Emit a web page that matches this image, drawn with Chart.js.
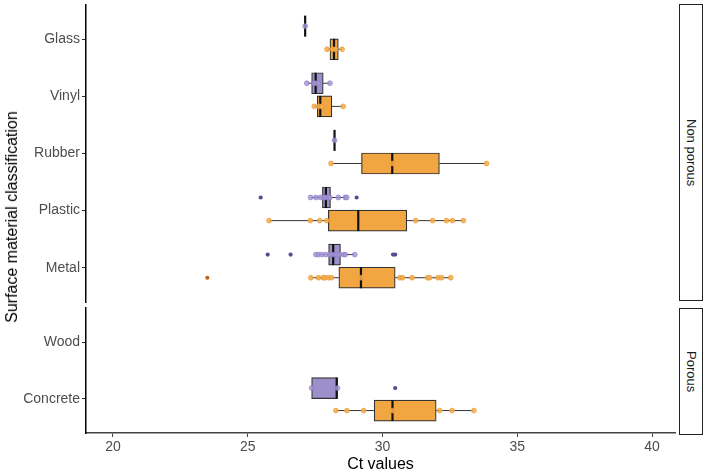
<!DOCTYPE html>
<html><head><meta charset="utf-8">
<script src="https://cdn.jsdelivr.net/npm/chart.js@4"></script>
<style>
html,body{margin:0;padding:0;background:#fff;}
#wrap{position:relative;width:706px;height:473px;overflow:hidden;font-family:"Liberation Sans",Arial,sans-serif;}
#c1{position:absolute;left:0;top:0;}
#c2{position:absolute;left:0;top:303px;}
.strip{position:absolute;left:679px;width:22px;border:1.3px solid #222;background:#fff;display:flex;align-items:center;justify-content:center;}
.strip span{writing-mode:vertical-rl;font-size:13px;color:#1a1a1a;}
#ytitle{position:absolute;left:12px;top:217px;transform:translate(-50%,-50%) rotate(-90deg);white-space:nowrap;font-size:16px;color:#000;}
</style></head>
<body><div id="wrap">
<canvas id="c1" width="706" height="303"></canvas>
<canvas id="c2" width="706" height="170"></canvas>
<div class="strip" style="top:4px;height:295px;"><span>Non porous</span></div>
<div class="strip" style="top:308px;height:125px;"><span>Porous</span></div>
<div id="ytitle">Surface material classification</div>
</div>
<script>
// ---------------- data ----------------
const topCategories = ['Glass','Vinyl','Rubber','Plastic','Metal'];
const bottomCategories = ['Wood','Concrete'];
const xTicks = [20,25,30,35,40];
// box stats per category: [lower whisker, Q1, median, Q3, upper whisker]
const purpleTopStats = [
  [27.13,27.13,27.13,27.13,27.13],
  [27.19,27.37,27.52,27.80,28.05],
  [28.22,28.22,28.22,28.22,28.22],
  [27.33,27.77,27.90,28.07,28.67],
  [27.53,28.00,28.17,28.44,28.97]
];
const purpleTopPoints = [
  [27.13],
  [27.19,27.45,27.52,27.62,28.05],
  [28.22],
  [27.33,27.53,27.70,27.82,27.90,27.98,28.05,28.36,28.62,28.67],
  [27.53,27.62,27.75,27.90,28.05,28.12,28.22,28.30,28.40,28.55,28.62,28.97]
];
const purpleTopOutliers = [[],[],[],[25.48,29.04],[25.74,26.59,30.39,30.47]];
const orangeTopStats = [
  [27.94,28.05,28.20,28.36,28.50],
  [27.47,27.58,27.69,28.12,28.54],
  [28.09,29.22,30.36,32.11,33.86],
  [25.79,27.99,29.10,30.90,33.00],
  [27.34,28.38,29.20,30.47,32.53]
];
const orangeTopPoints = [
  [27.94,28.15,28.25,28.50],
  [27.47,27.65,27.75,28.54],
  [28.09,30.36,33.86],
  [25.79,27.32,27.67,27.93,31.23,31.86,32.37,32.59,33.00],
  [27.34,27.62,27.80,27.86,27.99,28.11,29.20,30.64,30.74,31.10,31.67,31.75,32.06,32.19,32.53]
];
const orangeTopOutliers = [[],[],[],[],[23.5]];
const purpleBottomStats = [null,[27.37,27.37,28.30,28.33,28.33]];
const purpleBottomPoints = [[],[27.37,28.33]];
const purpleBottomOutliers = [[],[30.47]];
const orangeBottomStats = [null,[28.27,29.69,30.37,31.99,33.39]];
const orangeBottomPoints = [[],[28.27,28.68,29.30,30.37,32.12,32.58,33.39]];
const orangeBottomOutliers = [[],[]];

// ---------------- styles ----------------
const FONT = '"Liberation Sans", Arial, sans-serif';
const purple = {fill:'#9c8fca', pt:'rgba(168,153,215,0.8)', ptB:'rgba(140,125,198,0.9)', out:'#5a4b8f'};
const orange = {fill:'#f2a642', pt:'rgba(246,176,80,0.85)', ptB:'rgba(236,152,48,0.95)', out:'#c0651a'};

function series(stats, pts, outs, offset, col) {
  const boxes = [], meds = [], whisk = [], points = [], outl = [];
  stats.forEach((s, i) => {
    if (!s) return;
    const y = i + offset;
    boxes.push({y: y, x: [s[1], s[3]]});
    meds.push({x: s[2], y: y});
    whisk.push({x: s[0], y: y}, {x: s[1], y: y}, {x: NaN, y: NaN},
               {x: s[3], y: y}, {x: s[4], y: y}, {x: NaN, y: NaN});
    pts[i].forEach(p => points.push({x: p, y: y}));
    outs[i].forEach(p => outl.push({x: p, y: y}));
  });
  return [
    {type:'scatter', data: whisk, showLine: true, borderColor:'#333', borderWidth:1, pointRadius:0, order:5},
    {type:'bar', indexAxis:'y', data: boxes, backgroundColor: col.fill, borderColor:'#333', borderWidth:1.2,
     borderSkipped:false, grouped:false, barThickness:21, order:4},
    {type:'scatter', data: meds, pointStyle:'line', rotation:90, pointRadius:10.5, borderColor:'#111',
     borderWidth:2.2, order:3},
    {type:'scatter', data: points, pointRadius:2.4, backgroundColor: col.pt, borderColor: col.ptB, borderWidth:0.8, order:2},
    {type:'scatter', data: outl, pointRadius:2.1, backgroundColor: col.out, borderColor: col.out, borderWidth:0, order:1}
  ];
}

function makeChart(id, cats, dsets, showX, padTop, padBottom) {
  return new Chart(document.getElementById(id), {
    type: 'scatter',
    data: {datasets: dsets},
    options: {
      responsive: false, animation: false,
      layout: {autoPadding: false, padding: {left: 0, right: 31, top: padTop, bottom: padBottom}},
      plugins: {legend: {display: false}, tooltip: {enabled: false}},
      scales: {
        x: {
          type: 'linear', min: 19.0, max: 40.85, display: showX, offset: false, beginAtZero: false,
          afterBuildTicks: ax => { ax.ticks = xTicks.map(v => ({value: v})); },
          afterFit: ax => { if (showX) ax.height = 40; ax.paddingLeft = 0; ax.paddingRight = 0; },
          grid: {offset: false, drawOnChartArea: false, drawTicks: true, tickLength: 4, tickColor: '#444'},
          border: {display: true, color: '#444', width: 1.5},
          ticks: {padding: 2, color: '#4d4d4d', font: {family: FONT, size: 14}, maxRotation: 0},
          title: {display: true, text: 'Ct values', color: '#000', font: {family: FONT, size: 16, lineHeight: 1}, padding: {top: 0, bottom: 0}}
        },
        y: {
          type: 'linear', reverse: true, min: -0.6, max: cats.length - 0.4, offset: false, beginAtZero: false,
          afterBuildTicks: ax => { ax.ticks = cats.map((_, i) => ({value: i})); },
          afterFit: ax => { ax.width = 86; ax.paddingTop = 0; ax.paddingBottom = 0; },
          grid: {offset: false, drawOnChartArea: false, drawTicks: true, tickLength: 4, tickColor: '#333'},
          border: {display: true, color: '#000', width: 1.5},
          ticks: {padding: 2, color: '#4d4d4d', font: {family: FONT, size: 14}, callback: v => cats[v]}
        }
      }
    }
  });
}

const topSets = [].concat(
  series(purpleTopStats, purpleTopPoints, purpleTopOutliers, -0.23, purple),
  series(orangeTopStats, orangeTopPoints, orangeTopOutliers, 0.175, orange));
const bottomSets = [].concat(
  series(purpleBottomStats, purpleBottomPoints, purpleBottomOutliers, -0.19, purple),
  series(orangeBottomStats, orangeBottomPoints, orangeBottomOutliers, 0.205, orange));

makeChart('c1', topCategories, topSets, false, 5, 1);
makeChart('c2', bottomCategories, bottomSets, true, 5, 0);
</script>
</body></html>
